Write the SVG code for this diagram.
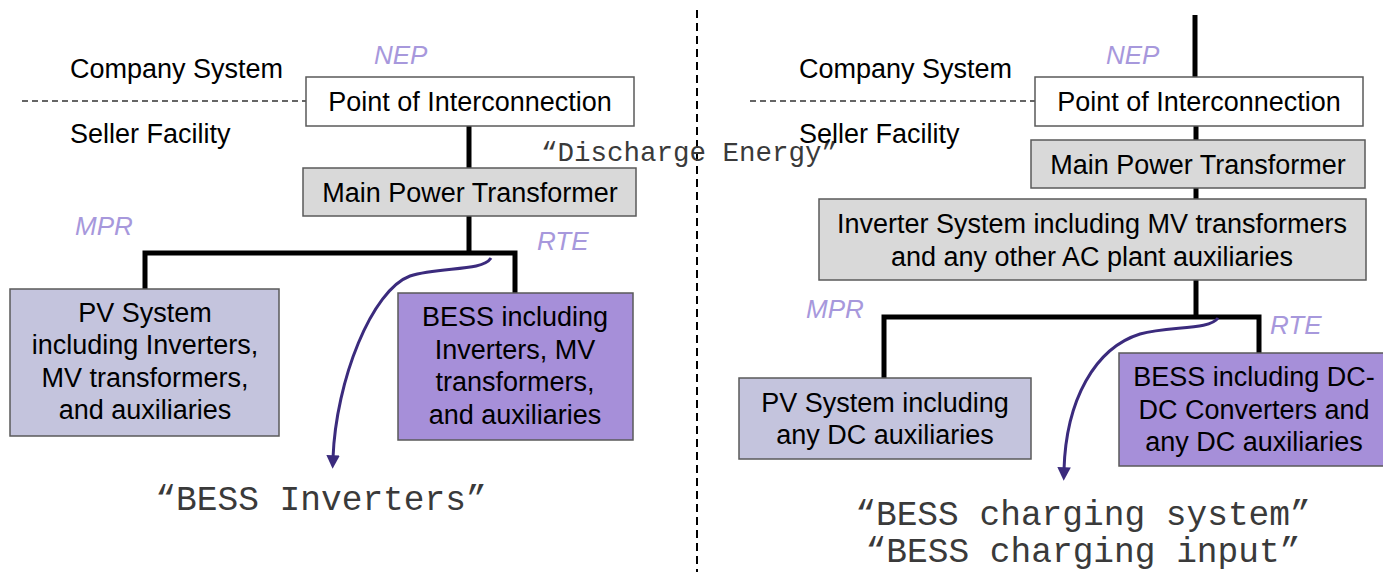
<svg xmlns="http://www.w3.org/2000/svg" width="1383" height="572" viewBox="0 0 1383 572">
<style>
.t{font-family:"Liberation Sans",Arial,sans-serif;font-size:27px;fill:#000}
.c{text-anchor:middle}
.lab{font-family:"Liberation Sans",Arial,sans-serif;font-size:26px;font-style:italic;fill:#a798dc}
.mono{font-family:"Liberation Mono","Courier New",monospace;fill:#3a3a3a}
.box{stroke:#5a5a5a;stroke-width:1.5}
.white{fill:#fff}
.gray{fill:#d9d9d9}
.pv{fill:#c4c4dd}
.bess{fill:#a68fd9}
.wire{stroke:#000;stroke-width:5;fill:none}
.dash{stroke:#333;stroke-width:1.5;stroke-dasharray:6 4;fill:none}
.curve{stroke:#3b2b7d;stroke-width:3;fill:none}
</style>
<defs>
<marker id="ah" viewBox="0 0 10 10" refX="2" refY="5" markerWidth="4.5" markerHeight="4.5" orient="auto" markerUnits="strokeWidth">
<path d="M0 0 L10 5 L0 10 Z" fill="#3b2b7d"/>
</marker>
</defs>
<rect width="1383" height="572" fill="#fff"/>

<!-- separator -->
<line x1="697" y1="10" x2="697" y2="572" stroke="#000" stroke-width="2" stroke-dasharray="8 5"/>

<g id="connectors">
<!-- left -->
<line class="dash" x1="22" y1="101" x2="306" y2="101"/>
<polyline class="wire" points="469,126 469,168"/>
<polyline class="wire" points="469,216 469,253"/>
<polyline class="wire" points="145,289 145,253 515,253 515,293"/>
<path class="curve" d="M491 258 C482 272 440 266 410 276 C372 290 336 380 333 458" marker-end="url(#ah)"/>
<!-- right -->
<line class="dash" x1="750" y1="101" x2="1035" y2="101"/>
<polyline class="wire" points="1195,15 1195,77"/>
<polyline class="wire" points="1196,126 1196,140"/>
<polyline class="wire" points="1196,188 1196,199"/>
<polyline class="wire" points="1196,280 1196,317"/>
<polyline class="wire" points="884,378 884,317 1259,317 1259,353"/>
<path class="curve" d="M1218 318 C1210 330 1170 326 1140 334 C1095 348 1066 400 1064 470" marker-end="url(#ah)"/>
</g>

<!-- left side labels -->
<text class="t" x="70" y="78">Company System</text>
<text class="t" x="70" y="143">Seller Facility</text>
<text class="lab" x="374" y="64">NEP</text>
<text class="lab" x="75" y="235">MPR</text>
<text class="lab" x="537" y="250">RTE</text>

<g id="poi-left">
<rect class="box white" x="306" y="77" width="328" height="49"/>
<text class="t c" x="470" y="111">Point of Interconnection</text>
</g>
<g id="mpt-left">
<rect class="box gray" x="303" y="168" width="333" height="48"/>
<text class="t c" x="470" y="202">Main Power Transformer</text>
</g>
<g id="pv-left">
<rect class="box pv" x="10" y="289" width="269" height="147"/>
<text class="t c" x="145" y="322">PV System</text>
<text class="t c" x="145" y="354">including Inverters,</text>
<text class="t c" x="145" y="387">MV transformers,</text>
<text class="t c" x="145" y="419">and auxiliaries</text>
</g>
<g id="bess-left">
<rect class="box bess" x="398" y="293" width="235" height="147"/>
<text class="t c" x="515" y="326">BESS including</text>
<text class="t c" x="515" y="359">Inverters, MV</text>
<text class="t c" x="515" y="391">transformers,</text>
<text class="t c" x="515" y="424">and auxiliaries</text>
</g>
<text class="mono c" x="321" y="510" font-size="34.5">“BESS Inverters”</text>

<text class="mono" x="541" y="161" font-size="27.5">“Discharge Energy”</text>

<!-- right side labels -->
<text class="t" x="799" y="78">Company System</text>
<text class="t" x="799" y="143">Seller Facility</text>
<text class="lab" x="1106" y="64">NEP</text>
<text class="lab" x="806" y="318">MPR</text>
<text class="lab" x="1270" y="334">RTE</text>

<g id="poi-right">
<rect class="box white" x="1035" y="77" width="328" height="49"/>
<text class="t c" x="1199" y="111">Point of Interconnection</text>
</g>
<g id="mpt-right">
<rect class="box gray" x="1031" y="140" width="334" height="48"/>
<text class="t c" x="1198" y="174">Main Power Transformer</text>
</g>
<g id="inverter-right">
<rect class="box gray" x="819" y="199" width="547" height="81"/>
<text class="t c" x="1092" y="233">Inverter System including MV transformers</text>
<text class="t c" x="1092" y="266">and any other AC plant auxiliaries</text>
</g>
<g id="pv-right">
<rect class="box pv" x="739" y="378" width="292" height="81"/>
<text class="t c" x="885" y="412">PV System including</text>
<text class="t c" x="885" y="444">any DC auxiliaries</text>
</g>
<g id="bess-right">
<rect class="box bess" x="1119" y="353" width="266" height="113"/>
<text class="t c" x="1254" y="386">BESS including DC-</text>
<text class="t c" x="1254" y="419">DC Converters and</text>
<text class="t c" x="1254" y="451">any DC auxiliaries</text>
</g>
<text class="mono c" x="1083" y="525" font-size="34.5">“BESS charging system”</text>
<text class="mono c" x="1083" y="562" font-size="34.5">“BESS charging input”</text>
</svg>
